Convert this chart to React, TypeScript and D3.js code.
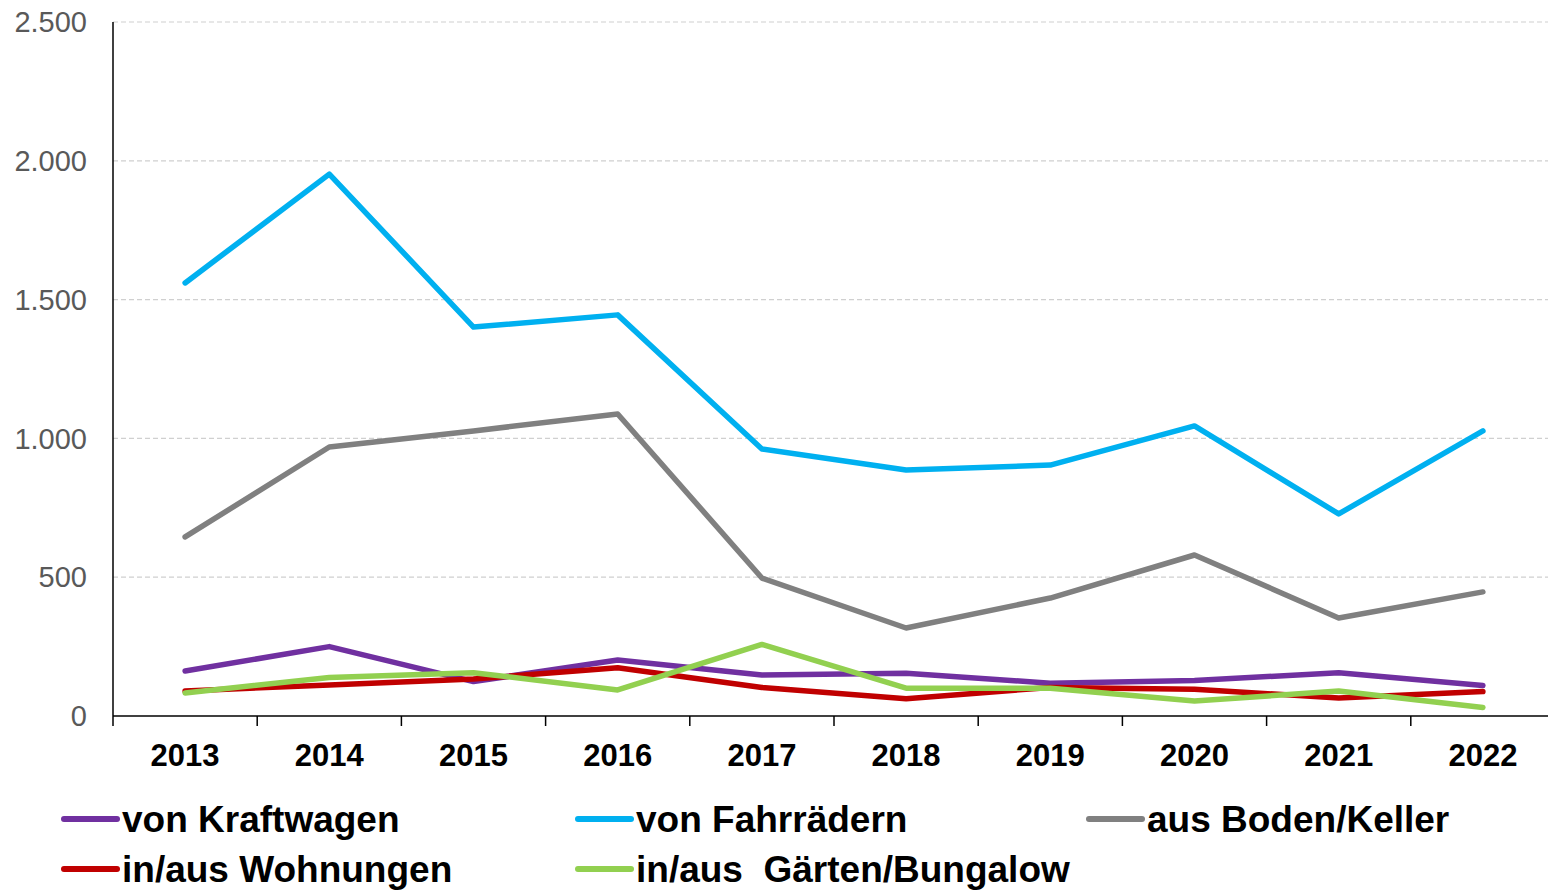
import React from "react";
import * as d3 from "d3";

const years = ["2013", "2014", "2015", "2016", "2017", "2018", "2019", "2020", "2021", "2022"];
const kraftwagen = [162, 250, 124, 202, 148, 154, 118, 128, 156, 110];
const fahrraeder = [1560, 1952, 1401, 1445, 962, 886, 904, 1045, 728, 1027];
const bodenKeller = [645, 969, 1027, 1088, 497, 317, 425, 580, 353, 447];
const wohnungen = [90, 112, 133, 174, 103, 62, 103, 96, 65, 88];
const gaerten = [83, 139, 156, 94, 258, 100, 100, 54, 90, 31];
const yTicks = [0, 500, 1000, 1500, 2000, 2500];

const series = [
  { name: "von Kraftwagen", values: kraftwagen, color: "#7030A0" },
  { name: "von Fahrrädern", values: fahrraeder, color: "#00B0F0" },
  { name: "aus Boden/Keller", values: bodenKeller, color: "#808080" },
  { name: "in/aus Wohnungen", values: wohnungen, color: "#C00000" },
  { name: "in/aus  Gärten/Bungalow", values: gaerten, color: "#92D050" },
];
const drawOrder = [1, 2, 0, 3, 4];

const fmt = (v: number) => d3.format(",")(v).replace(/,/g, ".");

export default function App() {
  const W = 1548, H = 890;
  const left = 113, top = 22, bottom = 716;
  const band = 144.2;
  const x = d3.scaleBand<string>().domain(years).range([left, left + band * years.length]);
  const y = d3.scaleLinear().domain([0, 2500]).range([bottom, top]);
  const line = (vals: number[]) =>
    d3.line<number>().x((_, i) => (x(years[i]) as number) + x.bandwidth() / 2).y((d) => y(d))(vals) as string;

  const legendPos = [
    { x: 64, y: 819 },
    { x: 578, y: 819 },
    { x: 1089, y: 819 },
    { x: 64, y: 869 },
    { x: 578, y: 869 },
  ];

  return (
    <svg width={W} height={H} style={{ position: "absolute", left: 0, top: 0 }} fontFamily="'Liberation Sans', Arial, sans-serif">
      <rect width={W} height={H} fill="#fff" />
      {yTicks.filter((t) => t > 0).map((t) => (
        <line key={t} x1={left} x2={W} y1={y(t)} y2={y(t)} stroke="#d0d0d0" strokeWidth={1.2} strokeDasharray="5,3" />
      ))}
      {yTicks.map((t) => (
        <text key={t} x={87} y={y(t)} dy="0.35em" textAnchor="end" fontSize={29} fill="#595959">
          {fmt(t)}
        </text>
      ))}
      <line x1={left} x2={left} y1={top} y2={bottom} stroke="#000" strokeWidth={1.5} />
      <line x1={left} x2={W} y1={bottom} y2={bottom} stroke="#000" strokeWidth={1.5} />
      {years.map((yr, i) => (
        <line key={yr} x1={left + band * i} x2={left + band * i} y1={bottom} y2={bottom + 10} stroke="#000" strokeWidth={1.5} />
      ))}
      {years.map((yr) => (
        <text key={yr} x={(x(yr) as number) + x.bandwidth() / 2} y={766} textAnchor="middle" fontSize={31} fontWeight="bold" fill="#000">
          {yr}
        </text>
      ))}
      {drawOrder.map((k) => (
        <path key={k} d={line(series[k].values)} fill="none" stroke={series[k].color} strokeWidth={5.5} strokeLinejoin="round" strokeLinecap="round" />
      ))}
      {series.map((s, i) => (
        <g key={s.name}>
          <line x1={legendPos[i].x} x2={legendPos[i].x + 53} y1={legendPos[i].y} y2={legendPos[i].y} stroke={s.color} strokeWidth={6} strokeLinecap="round" />
          <text x={legendPos[i].x + 58} y={legendPos[i].y + 13} fontSize={37} fontWeight="bold" fill="#000" style={{ whiteSpace: "pre" }}>
            {s.name}
          </text>
        </g>
      ))}
    </svg>
  );
}
